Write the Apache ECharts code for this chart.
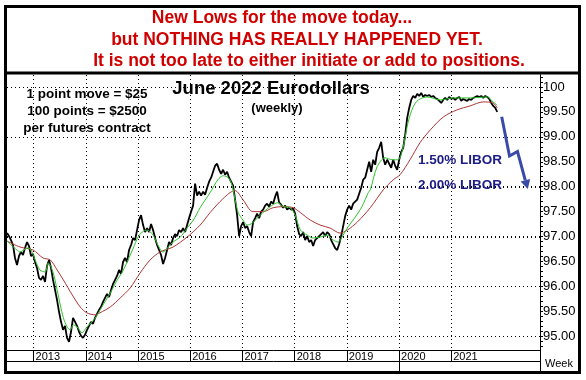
<!DOCTYPE html>
<html><head><meta charset="utf-8">
<script src="https://cdn.jsdelivr.net/npm/echarts@6/dist/echarts.min.js"></script>
<style>html,body{margin:0;padding:0;background:#fff}#c{width:586px;height:380px}</style>
</head><body><div id="c"></div><script>
// ---------------- data ----------------
const titleLines = [
  'New Lows for the move today...',
  'but NOTHING HAS REALLY HAPPENED YET.',
  'It is not too late to either initiate or add to positions.'
];
const chartTitle = 'June 2022 Eurodollars';
const chartSubtitle = '(weekly)';
const notes = ['1 point move = $25', '100 points = $2500', 'per futures contract'];
const liborLabels = ['1.50% LIBOR', '2.00% LIBOR'];
const axisName = 'Week';

// bi-weekly closes, starting mid 2012 (decimal year) every 14 days
const priceStart = 2012.49;
const priceStepDays = 14;
const price = [
  97.07,97.01,96.93,96.83,96.57,96.43,96.61,96.69,96.63,96.77,96.89,96.81,96.61,96.65,96.49,96.37,96.17,96.13,96.21,96.09,
  96.41,96.53,96.37,96.13,95.93,95.73,95.49,95.29,95.13,95.21,94.97,94.89,95.09,95.37,95.29,95.21,95.09,95.01,94.97,95.03,
  95.13,95.21,95.29,95.25,95.37,95.45,95.53,95.59,95.69,95.77,95.85,95.79,95.93,96.05,96.13,96.21,96.33,96.25,96.49,96.57,
  96.49,96.73,96.83,96.97,96.93,97.13,97.33,97.43,97.23,97.09,97.17,97.09,97.25,97.13,96.97,96.83,96.73,96.63,96.45,96.57,
  96.73,96.89,96.83,96.97,97.05,97.01,97.13,97.09,97.17,97.09,97.23,97.37,97.50,97.62,98.06,97.82,97.90,97.82,97.90,97.84,
  97.98,98.10,98.18,98.30,98.42,98.46,98.34,98.26,98.34,98.24,98.30,98.18,98.10,98.02,97.74,97.43,97.01,97.21,97.29,97.17,
  97.21,97.09,97.01,97.29,97.37,97.46,97.37,97.50,97.54,97.62,97.66,97.60,97.70,97.66,97.80,97.90,97.68,97.64,97.58,97.62,
  97.54,97.58,97.54,97.56,97.46,97.21,97.05,97.01,97.09,96.93,97.01,96.89,96.93,96.81,96.93,96.97,97.01,97.05,97.09,97.01,
  97.09,97.05,96.93,96.85,96.77,96.73,96.85,97.01,97.21,97.41,97.54,97.62,97.54,97.66,97.70,97.74,97.86,97.98,98.14,98.18,
  98.34,98.50,98.30,98.54,98.44,98.70,98.78,98.90,98.58,98.44,98.54,98.46,98.38,98.54,98.42,98.34,98.54,98.70,98.78,99.04,
  99.38,99.58,99.74,99.82,99.78,99.86,99.82,99.88,99.80,99.84,99.82,99.84,99.80,99.82,99.78,99.76,99.72,99.68,99.74,99.78,
  99.74,99.80,99.76,99.78,99.74,99.78,99.80,99.72,99.76,99.74,99.72,99.76,99.74,99.78,99.80,99.82,99.80,99.82,99.78,99.82,
  99.80,99.76,99.68,99.62,99.58,99.50
];
// short moving average (green), [decimal year, price]
const fastMA = [
  [2012.49,96.91],[2012.68,96.73],[2012.74,96.69],[2012.88,96.77],[2012.95,96.73],[2013.03,96.53],[2013.12,96.33],
  [2013.22,96.29],[2013.28,96.47],[2013.37,96.29],[2013.45,95.93],[2013.51,95.63],[2013.57,95.37],[2013.64,95.19],
  [2013.70,95.13],[2013.76,95.23],[2013.83,95.19],[2013.93,95.07],[2014.02,95.19],[2014.12,95.29],[2014.22,95.43],
  [2014.33,95.63],[2014.47,95.87],[2014.60,96.13],[2014.70,96.29],[2014.79,96.49],[2014.91,96.77],[2015.00,96.99],
  [2015.08,97.09],[2015.17,97.13],[2015.29,97.03],[2015.38,96.83],[2015.48,96.69],[2015.58,96.79],[2015.67,96.89],
  [2015.81,96.99],[2015.94,97.17],[2016.06,97.33],[2016.19,97.58],[2016.38,97.88],[2016.53,98.14],[2016.63,98.22],
  [2016.73,98.18],[2016.80,98.04],[2016.86,97.74],[2016.92,97.48],[2017.01,97.33],[2017.09,97.23],[2017.19,97.27],
  [2017.34,97.43],[2017.53,97.60],[2017.68,97.68],[2017.78,97.60],[2017.91,97.58],[2018.01,97.43],[2018.11,97.13],
  [2018.24,97.03],[2018.35,96.97],[2018.49,96.99],[2018.62,97.03],[2018.74,96.93],[2018.83,96.89],[2018.93,97.03],
  [2019.02,97.19],[2019.16,97.39],[2019.29,97.60],[2019.41,97.88],[2019.45,97.94],[2019.58,98.40],[2019.73,98.58],
  [2019.87,98.54],[2019.98,98.54],[2020.08,98.80],[2020.17,99.28],[2020.27,99.60],[2020.37,99.74],[2020.54,99.80],
  [2020.79,99.74],[2021.04,99.78],[2021.36,99.78],[2021.69,99.80],[2021.80,99.70],[2021.88,99.64]
];
// long moving average (red), [decimal year, price]
const slowMA = [
  [2012.49,96.91],[2012.74,96.79],[2012.99,96.73],[2013.18,96.57],[2013.32,96.53],[2013.45,96.33],[2013.57,96.13],
  [2013.74,95.83],[2013.89,95.59],[2014.02,95.47],[2014.18,95.43],[2014.27,95.47],[2014.47,95.59],[2014.66,95.77],
  [2014.85,95.97],[2015.04,96.27],[2015.23,96.53],[2015.42,96.69],[2015.67,96.79],[2015.94,96.99],[2016.19,97.23],
  [2016.38,97.48],[2016.57,97.70],[2016.76,97.88],[2016.86,97.92],[2017.01,97.74],[2017.20,97.50],[2017.40,97.50],
  [2017.59,97.58],[2017.78,97.60],[2017.97,97.58],[2018.11,97.48],[2018.30,97.33],[2018.49,97.23],[2018.68,97.17],
  [2018.87,97.07],[2019.01,97.13],[2019.20,97.29],[2019.45,97.58],[2019.70,97.94],[2019.89,98.14],[2020.02,98.24],
  [2020.21,98.54],[2020.40,98.88],[2020.60,99.14],[2020.85,99.40],[2021.11,99.54],[2021.36,99.62],[2021.61,99.70],
  [2021.80,99.68],[2021.88,99.58]
];
const yearTicks = [2013,2014,2015,2016,2017,2018,2019,2020,2021];
const priceLabels = [95,95.5,96,96.5,97,97.5,98,98.5,99,99.5,100];
const priceGrid = [95,96,97,98,99,100];
const xRange = [2012.49, 2022.70];
const yRange = [94.725, 100.24];

// ---------------- chart ----------------
const W = 586, H = 380;
const GRID = {left: 7, right: 46, top: 75, bottom: 30};
const plotW = W - GRID.left - GRID.right, plotH = H - GRID.top - GRID.bottom;
const minorTicks = [];
for (let k = 948; k <= 1002; k++) minorTicks.push(k / 10);
const priceSeries = price.map((v, i) => [priceStart + i * priceStepDays / 365.25, v]);

const FONT = '"Liberation Sans", Arial, sans-serif';
const chart = echarts.init(document.getElementById('c'));

chart.setOption({
  animation: false,
  backgroundColor: '#fff',
  grid: {left: GRID.left, right: GRID.right, top: GRID.top, bottom: GRID.bottom},
  xAxis: {
    type: 'value', min: xRange[0], max: xRange[1],
    axisLine: {show: true, lineStyle: {color: '#000', width: 1}},
    axisTick: {show: true, customValues: yearTicks, length: 12, lineStyle: {color: '#000', width: 1}},
    axisLabel: {customValues: yearTicks, formatter: v => String(Math.round(v)), align: 'left',
      verticalAlign: 'top', margin: 1, padding: [0, 0, 0, 2], lineHeight: 11,
      fontFamily: FONT, fontSize: 11, color: '#000'},
    splitLine: {show: true, lineStyle: {color: '#000', width: 1, type: [1, 3]}}
  },
  yAxis: [{
    type: 'value', position: 'right', min: yRange[0], max: yRange[1],
    axisLine: {show: true, lineStyle: {color: '#000', width: 1}},
    axisLabel: {show: false},
    axisTick: {show: false, customValues: priceGrid},
    splitLine: {show: true, lineStyle: {color: '#000', width: 1, type: [1, 3]}}
  }, {
    type: 'value', position: 'right', min: yRange[0], max: yRange[1],
    axisLine: {show: true, lineStyle: {color: '#000', width: 1}},
    axisTick: {show: true, customValues: minorTicks, length: 3, lineStyle: {color: '#000', width: 1}},
    axisLabel: {customValues: priceLabels, formatter: v => (Math.abs(v - 100) < 1e-9 ? '100' : v.toFixed(2)),
      margin: 3, fontFamily: FONT, fontSize: 13, color: '#000'},
    splitLine: {show: false}
  }],
  series: [
    {type: 'line', name: 'price', data: priceSeries, showSymbol: false,
     lineStyle: {color: '#000', width: 1.8}},
    {type: 'line', name: 'slow', data: slowMA, showSymbol: false, smooth: 0.3,
     lineStyle: {color: '#b03434', width: 1}},
    {type: 'line', name: 'fast', data: fastMA, showSymbol: false, smooth: 0.3,
     lineStyle: {color: '#2cc42c', width: 1}}
  ]
});

// dotted horizontal grid lines at whole points (price axis scale mapped onto the grid box)
const yPix = v => GRID.top + (yRange[1] - v) / (yRange[1] - yRange[0]) * plotH;
const xPix = v => GRID.left + (v - xRange[0]) / (xRange[1] - xRange[0]) * plotW;
const hGrid = priceGrid.map(v => {
  const y = Math.round(yPix(v)) + 0.5;
  return {type: 'line', shape: {x1: GRID.left, y1: y, x2: GRID.left + plotW, y2: y},
    style: {stroke: '#000', lineWidth: 1, lineDash: [1, 3]}};
});

const x2020 = Math.round(xPix(2020)) + 0.5;
const red = '#d00000';
const titleText = (t, x, y) => ({type: 'text', x, y, style: {text: t, font: 'bold 17.5px ' + FONT,
  fill: red, align: 'center', verticalAlign: 'middle', textAlign: 'center', textVerticalAlign: 'middle'}});
const blackText = (t, x, y, size) => ({type: 'text', x, y, style: {text: t,
  font: 'bold ' + size + 'px ' + FONT, fill: '#000', align: 'center', verticalAlign: 'middle',
  textAlign: 'center', textVerticalAlign: 'middle'}});
const leftText = (t, x, y, font, fill) => ({type: 'text', x, y, style: {text: t, font, fill,
  align: 'left', verticalAlign: 'middle', textAlign: 'left', textVerticalAlign: 'middle'}});
const blue = '#1c1c86';
const arrowColor = '#3a4aa8';

chart.setOption({graphic: hGrid.concat([
  {type: 'rect', shape: {x: 5.5, y: 6.5, width: 574, height: 366}, style: {fill: null, stroke: '#000', lineWidth: 3}},
  {type: 'line', shape: {x1: 5, y1: 73, x2: 580, y2: 73}, style: {stroke: '#000', lineWidth: 3}},
  {type: 'line', shape: {x1: 7, y1: 361.5, x2: 540, y2: 361.5}, style: {stroke: '#000', lineWidth: 1}},
  {type: 'line', shape: {x1: 540.5, y1: 350, x2: 540.5, y2: 372}, style: {stroke: '#000', lineWidth: 1}},
  {type: 'line', shape: {x1: x2020, y1: 361, x2: x2020, y2: 372}, style: {stroke: '#000', lineWidth: 1}},
  titleText(titleLines[0], 282, 18),
  titleText(titleLines[1], 297, 40),
  titleText(titleLines[2], 309, 61),
  blackText(chartTitle, 271, 89, 18.5),
  blackText(chartSubtitle, 277, 108, 13),
  blackText(notes[0], 87, 94, 13.5),
  blackText(notes[1], 87, 111, 13.5),
  blackText(notes[2], 87, 128, 13.5),
  leftText(liborLabels[0], 418, 160, 'bold 13.5px ' + FONT, blue),
  leftText(liborLabels[1], 418, 185, 'bold 13.5px ' + FONT, blue),
  leftText(axisName, 545, 364, '11px ' + FONT, '#000'),
  {type: 'polyline', shape: {points: [[501.7, 116.7], [509.5, 156], [517.5, 151.5], [525.3, 180.3]]},
   style: {stroke: arrowColor, lineWidth: 3, fill: null}},
  {type: 'polygon', shape: {points: [[527.8, 189], [530.2, 178.9], [520.6, 181.6]]}, style: {fill: arrowColor}}
])});
</script></body></html>
